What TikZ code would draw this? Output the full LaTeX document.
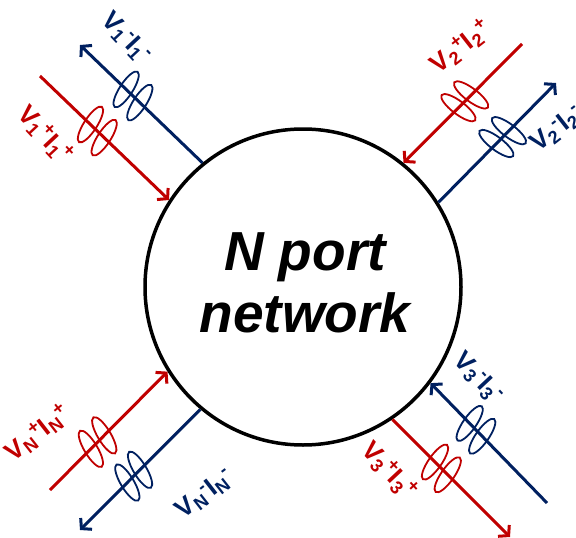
\documentclass[tikz,border=0pt]{standalone}
\usepackage{fontspec}
\setmainfont{Liberation Sans}
\usetikzlibrary{arrows.meta,calc}
\definecolor{portred}{RGB}{192,0,0}
\definecolor{portblue}{RGB}{0,32,96}
% wave quantity: letter, port index, direction sign
\newcommand\wq[3]{#1\textsubscript{#2}\textsuperscript{#3}}
\begin{document}
\begin{tikzpicture}[x=1pt,y=-1pt,
  feed/.style={line width=3pt},
  head/.style={-{Straight Barb[length=7pt,width=16pt]}},
  pulse/.style={line width=1.8pt},
  lab/.style={font=\fontsize{26}{26}\selectfont\bfseries, inner sep=0pt}]
\useasboundingbox (0,0) rectangle (576,538);

% the network
\node[circle, draw, line width=3.5pt, minimum size=316pt, inner sep=0pt] (net) at (303,287) {};
\node[align=center, font=\fontsize{55}{62}\selectfont\bfseries\itshape] (title) at (305,283) {N port\\network};

% outer ends of the feed lines
\coordinate (tlRo) at (40,76);
\coordinate (tlBo) at (80,45);
\coordinate (trRo) at (522,44);
\coordinate (trBo) at (556,83);
\coordinate (blRo) at (50,490);
\coordinate (blBo) at (80,530);
\coordinate (brBo) at (547,503);
\coordinate (brRo) at (510,537);

% feed lines: incident and reflected waves
\draw[feed,portred,head]  (tlRo) -- (net.147.7);
\draw[feed,portblue,head] (net.129.5) -- (tlBo);
\draw[feed,portred,head]  (trRo) -- (net.51.2);
\draw[feed,portblue,head] (net.32.9) -- (trBo);
\draw[feed,portred,head]  (blRo) -- (net.212.6);
\draw[feed,portblue,head] (net.230.4) -- (blBo);
\draw[feed,portblue,head] (brBo) -- (net.-37.9);
\draw[feed,portred,head]  (net.-56.9) -- (brRo);

% wave packets on each line
\foreach \a/\b/\d/\r/\c in {
  tlRo/net.147.7/70pt/57/portred,  tlRo/net.147.7/89pt/57/portred,
  tlBo/net.129.5/64pt/57/portblue, tlBo/net.129.5/83pt/57/portblue,
  trRo/net.51.2/72pt/143/portred,  trRo/net.51.2/90pt/143/portred,
  trBo/net.32.9/67pt/143/portblue, trBo/net.32.9/85pt/143/portblue,
  blRo/net.212.6/58pt/121/portred, blRo/net.212.6/77pt/121/portred,
  blBo/net.230.4/67pt/121/portblue,blBo/net.230.4/85pt/121/portblue,
  brBo/net.-37.9/93pt/55/portblue, brBo/net.-37.9/111pt/55/portblue,
  brRo/net.-56.9/88pt/55/portred,  brRo/net.-56.9/106pt/55/portred}{
  \coordinate (p) at ($(\a)!\d!(\b)$);
  \draw[pulse,\c,rotate around={\r:(p)}] (p) ellipse (21pt and 6.5pt);
}

% wave labels
\node[lab,portblue,rotate=-47] (l1r) at (126,38)  {\wq{V}{1}{-}\wq{I}{1}{-}};
\node[lab,portred, rotate=-47] (l1i) at (45,135)  {\wq{V}{1}{+}\wq{I}{1}{+}};
\node[lab,portred, rotate=38]  (l2i) at (461,47)  {\wq{V}{2}{+}\wq{I}{2}{+}};
\node[lab,portblue,rotate=38]  (l2r) at (557,129) {\wq{V}{2}{-}\wq{I}{2}{-}};
\node[lab,portred, rotate=38]  (lNi) at (38,433)  {\wq{V}{N}{+}\wq{I}{N}{+}};
\node[lab,portblue,rotate=38]  (lNr) at (205,494) {\wq{V}{N}{-}\wq{I}{N}{-}};
\node[lab,portblue,rotate=-47] (l3r) at (478,378) {\wq{V}{3}{-}\wq{I}{3}{-}};
\node[lab,portred, rotate=-47] (l3i) at (389,471) {\wq{V}{3}{+}\wq{I}{3}{+}};
\end{tikzpicture}
\end{document}
